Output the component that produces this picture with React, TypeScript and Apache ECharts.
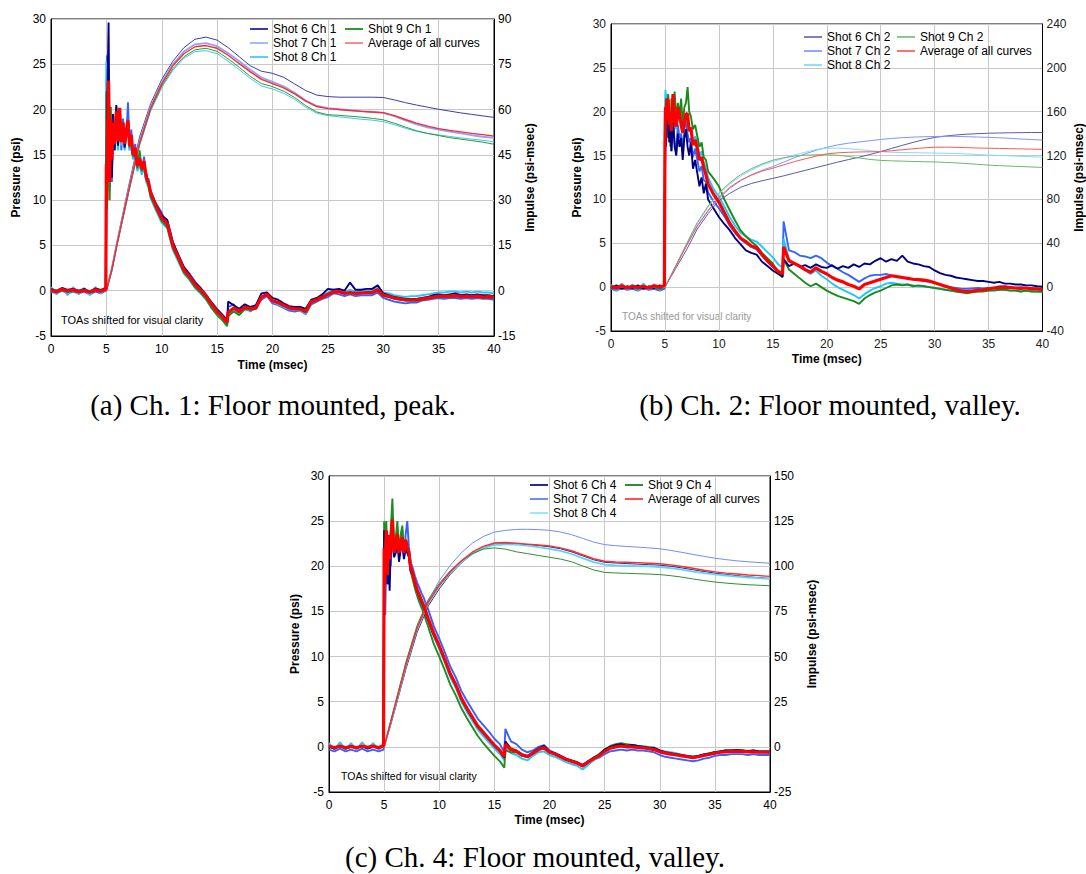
import React, { useEffect, useRef } from "react";
import * as echarts from "echarts";

// ---------- sample times (msec) ----------
const T_MS = [
  0, 0.5, 1, 1.5, 2, 2.5, 3, 3.5, 4, 4.5, 4.95,
  5, 5.05, 5.1, 5.2, 5.3, 5.4, 5.5, 5.6, 5.75, 5.9, 6.05, 6.2, 6.35, 6.5, 6.65, 6.8, 6.95, 7.1, 7.25, 7.4, 7.6, 7.8, 8, 8.2, 8.4, 8.6, 8.8, 9,
  9.5, 10, 10.5, 11, 11.5, 12, 12.5, 13, 13.5, 14, 14.5, 15, 15.5,
  15.9, 16,
  16.5, 17, 17.5, 18, 18.5, 19, 19.5, 20,
  20.5, 21, 21.5, 22, 22.5, 23, 23.5, 24,
  24.5, 25, 25.5, 26, 26.5, 27, 27.5, 28,
  28.5, 29, 29.5, 30, 30.5, 31, 31.5, 32,
  32.5, 33, 33.5, 34, 34.5, 35, 35.5, 36,
  36.5, 37, 37.5, 38, 38.5, 39, 39.5, 40,
];
const T_IMP = [0, 5, 5.5, 6, 7, 8, 9, 10, 11, 12, 13, 14, 15, 16, 17, 18, 19, 20, 21, 22, 23, 24, 25, 26, 27, 28, 29, 30, 31, 32, 33, 34, 35, 36, 37, 38, 39, 40];

const X_TICKS = { min: 0, max: 40, interval: 5 };

// ---------- (a) Ch 1 pressure (psi) ----------
const PA_S6 = [
  0.2, 0, 0.3, 0.1, 0.2, 0, 0.2, -0.1, 0.25, 0.1, 0.3,
  10, 18, 22, 29.6, 13, 18, 12.5, 19.5, 15.5, 20.5, 16, 19.2, 17, 18.2, 15.8, 18, 17.5, 16.5, 16.8, 15.5, 15, 14.2, 14, 13.8, 13.6, 13, 11.8, 11,
  9.5, 8.3, 7.8, 5.4, 3.9, 2.6, 1.8, 0.9, 0.3, -0.5, -1.3, -2.1, -2.7,
  -3.3, -1.2,
  -1.6, -2.0, -1.5, -1.8, -1.6, -0.3, -0.2, -0.8,
  -1.0, -1.4, -1.7, -1.8, -1.8, -2.0, -1.0, -0.8,
  -0.4, 0.2, 0.1, 0.2, 0.0, 0.9, 0.1, 0.1,
  0.2, 0.2, 0.6, -0.3, -0.5, -0.7, -0.8, -0.9,
  -0.9, -0.9, -0.8, -0.7, -0.5, -0.4, -0.5, -0.4,
  -0.3, -0.5, -0.4, -0.5, -0.4, -0.5, -0.5, -0.6,
];
const PA_S7 = [
  -0.1, -0.3, 0, -0.3, -0.1, -0.3, -0.1, -0.4, -0.1, -0.3, 0,
  20, 26, 15, 21, 11, 18.5, 12, 17.5, 15.5, 19, 16.8, 19.8, 15.5, 19, 16.5, 17, 20.8, 15.5, 17.8, 14.8, 16.2, 13.4, 15.2, 13, 14.8, 12.2, 12.4, 10.5,
  9.6, 8.6, 7.2, 5.3, 4.0, 2.6, 1.9, 1.0, 0.3, -0.4, -1.3, -2.0, -2.7,
  -3.2, -1.8,
  -1.5, -2.6, -1.6, -2.3, -1.8, -1.0, -0.6, -1.4,
  -1.6, -1.9, -2.2, -2.3, -2.2, -2.6, -1.5, -1.2,
  -0.9, -0.7, -0.3, -0.4, -0.6, -0.4, -0.6, -0.5,
  -0.5, -0.5, -0.2, -0.8, -1.0, -1.2, -1.3, -1.4,
  -1.3, -1.3, -1.1, -1.0, -0.9, -0.8, -0.9, -0.8,
  -0.8, -0.9, -0.8, -0.9, -0.8, -0.9, -0.9, -1.0,
];
const PA_S8 = [
  0.4, -0.4, 0.3, -0.5, 0.4, -0.4, 0.3, -0.5, 0.4, -0.3, 0.5,
  25.3, 12, 16, 20, 14, 17.5, 15, 17, 16, 18.5, 15.5, 19, 16, 17.5, 15.5, 17, 17.5, 15.5, 16.5, 14.5, 15, 13.2, 14, 12.8, 13.6, 12, 11.4, 10.2,
  8.8, 7.5, 6.9, 4.5, 3.2, 1.9, 1.2, 0.3, -0.3, -1.0, -1.9, -2.6, -3.2,
  -3.8, -2.6,
  -2.2, -2.6, -2.1, -2.2, -2.0, -0.8, -0.4, -1.2,
  -1.5, -1.8, -2.0, -2.1, -2.2, -2.5, -1.3, -1.0,
  -0.5, -0.2, 0.1, 0.0, -0.1, 0.1, -0.1, 0.0,
  0.0, 0.1, 0.3, -0.2, -0.3, -0.5, -0.6, -0.7,
  -0.6, -0.6, -0.5, -0.4, -0.3, -0.2, -0.2, -0.1,
  -0.1, -0.2, -0.1, -0.2, -0.1, -0.2, -0.2, -0.3,
];
const PA_S9 = [
  0, -0.2, 0.1, -0.1, 0, -0.2, 0, -0.2, 0, -0.1, 0.1,
  22, 9, 16, 19, 10, 20.3, 15, 18, 16.5, 20.3, 16.2, 19.5, 16.5, 18.4, 16, 17.3, 18.5, 15.8, 17, 14.8, 15.5, 13.5, 15.5, 13.2, 14.2, 12.3, 11.7, 10.4,
  9.0, 7.7, 7.0, 4.7, 3.4, 2.0, 1.3, 0.4, -0.2, -0.9, -1.9, -2.7, -3.3,
  -3.9, -2.8,
  -2.3, -2.7, -2.0, -2.1, -2.0, -0.7, -0.4, -1.1,
  -1.3, -1.6, -1.9, -2.0, -2.1, -2.4, -1.3, -1.1,
  -0.8, -0.4, -0.2, -0.1, -0.3, -0.2, -0.3, -0.3,
  -0.2, -0.3, 0.0, -0.6, -0.7, -0.9, -1.0, -1.1,
  -1.1, -1.1, -1.0, -0.9, -0.8, -0.7, -0.7, -0.7,
  -0.6, -0.7, -0.7, -0.7, -0.7, -0.8, -0.8, -0.8,
];
const PA_AVG = [
  0.1, -0.1, 0.15, -0.05, 0.1, -0.1, 0.05, -0.15, 0.1, -0.05, 0.2,
  14, 10, 17, 23.2, 12, 19, 14.5, 18.5, 16.2, 19.8, 16.5, 20.2, 16.4, 18.6, 16.2, 17.6, 18.8, 16, 17.2, 15, 15.8, 13.8, 14.6, 13.4, 14.3, 12.5, 12, 10.8,
  9.3, 8.0, 7.4, 5.0, 3.7, 2.3, 1.6, 0.7, 0.1, -0.6, -1.5, -2.3, -2.9,
  -3.5, -2.4,
  -1.9, -2.3, -1.8, -2.0, -1.9, -0.7, -0.4, -1.1,
  -1.3, -1.6, -1.9, -2.0, -2.0, -2.3, -1.2, -1.0,
  -0.7, -0.4, -0.15, -0.1, -0.3, -0.2, -0.3, -0.25,
  -0.2, -0.2, 0.1, -0.5, -0.6, -0.8, -0.9, -1.0,
  -1.0, -1.0, -0.9, -0.8, -0.7, -0.6, -0.6, -0.6,
  -0.55, -0.65, -0.6, -0.65, -0.6, -0.7, -0.65, -0.7,
];
// (a) impulse (psi-msec) at T_IMP
const IA_S6 = [0, 0, 8, 17, 34.5, 51, 62, 70, 76, 80.5, 83.3, 84, 83, 80.5, 77.5, 74.5, 72.7, 72, 70.7, 68.5, 66.3, 64.8, 64.3, 64.1, 64.1, 64.1, 64.1, 64, 63.2, 62.3, 61.5, 60.8, 60.1, 59.5, 58.9, 58.4, 57.9, 57.4];
const IA_S7 = [0, 0, 7, 16.5, 33.5, 49.5, 61, 69, 75, 79.2, 81.6, 82, 81, 78.7, 76, 73.2, 70.6, 69.2, 67.7, 65.6, 63, 61.2, 60.5, 60.1, 59.8, 59.5, 59.2, 58.9, 57.8, 56.4, 55.1, 54.1, 53.4, 52.7, 52.1, 51.5, 51, 50.6];
const IA_S8 = [0, 0, 6.5, 15.5, 32, 48, 59.5, 67.3, 73, 77, 79.2, 79.5, 78.5, 76, 73.2, 70.3, 67.8, 66.8, 65.4, 63.4, 60.8, 58.8, 58, 57.6, 57.2, 56.8, 56.5, 56, 55, 53.8, 52.8, 52.1, 51.6, 51.1, 50.6, 50.2, 49.8, 49.4];
const IA_S9 = [0, 0, 6.8, 15.8, 32.5, 48.5, 60, 67.8, 73.5, 77.5, 79.8, 80.3, 79.3, 76.8, 74, 71, 68.6, 67.6, 66.1, 64, 61.3, 59.2, 58.3, 58.1, 57.8, 57.5, 57.1, 56.6, 55.5, 54.2, 53, 52.1, 51.4, 50.7, 50.2, 49.7, 49.2, 48.5];
const IA_AVG = [0, 0, 7, 16, 33, 49, 60.5, 68.5, 74.5, 78.5, 80.8, 81.2, 80.3, 78, 75.2, 72.5, 70, 68.6, 67.2, 65.2, 62.8, 61, 60.3, 60, 59.7, 59.4, 59.2, 59, 58, 56.7, 55.5, 54.5, 53.7, 53.1, 52.6, 52.1, 51.7, 51.2];

// ---------- (b) Ch 2 pressure (psi) ----------
const PB_S6 = [
  -0.1, 0.2, -0.2, 0.1, -0.1, 0.2, -0.2, 0.1, -0.1, 0.2, 0,
  12, 18, 16, 20, 19, 16.5, 18.5, 15.5, 19, 16, 15, 17.5, 16, 17, 14.5, 17, 18, 16, 15, 16.5, 13.5, 14.5, 13, 11.5, 12.5, 10.7, 11.8, 10,
  9.0, 8.0, 7.2, 6.5, 5.6, 4.9, 4.2, 3.9, 3.7, 2.9, 2.4, 1.9, 1.5,
  1.2, 3.2,
  2.4, 2.7, 2.3, 2.5, 2.2, 2.6, 2.3, 2.2,
  2.5, 2.1, 2.4, 2.2, 2.6, 2.3, 2.7, 2.6,
  3.0, 3.3, 2.9, 3.2, 3.0, 3.6, 2.9, 2.7,
  2.6, 2.4, 2.3, 1.9, 1.6, 1.4, 1.3, 1.1,
  1.0, 0.9, 0.8, 0.7, 0.7, 0.6, 0.5, 0.6,
  0.4, 0.4, 0.3, 0.3, 0.2, 0.2, 0.1, 0.05,
];
const PB_S7 = [
  -0.2, -0.4, -0.1, -0.3, -0.2, -0.4, -0.1, -0.3, -0.2, -0.4, -0.2,
  14, 19, 17, 21, 20, 17, 18, 15.5, 19.5, 16.5, 15.5, 18.5, 17, 17.5, 15.5, 18, 19, 17.5, 16.5, 17, 14.8, 15.8, 14.5, 13.2, 13.8, 12.2, 12, 10.8,
  9.8, 9.0, 8.1, 7.0, 6.2, 5.5, 5.0, 4.6, 4.3, 3.6, 2.9, 2.3, 1.8,
  1.6, 7.5,
  4.2, 4.0, 3.6, 3.5, 3.3, 3.6, 3.3, 2.8,
  2.4, 2.1, 1.7, 1.4, 1.0, 0.6, 1.0, 1.3,
  1.4, 1.4, 1.5, 1.3, 1.2, 1.1, 1.0, 0.9,
  0.8, 0.7, 0.6, 0.5, 0.3, 0.1, 0.0, -0.1,
  -0.2, -0.2, -0.15, -0.1, -0.15, -0.1, -0.05, 0.1,
  0.1, 0.0, -0.1, 0.0, -0.1, -0.1, -0.2, -0.3,
];
const PB_S8 = [
  0.3, -0.4, 0.4, -0.3, 0.3, -0.4, 0.4, -0.3, 0.3, -0.3, 0.3,
  20, 22.5, 20, 22, 20.5, 17.5, 20, 17, 21.5, 18.5, 18, 20, 19, 19.5, 17.5, 19, 19.5, 19, 17.8, 18, 16.5, 17.2, 16.5, 15, 15.5, 14.2, 13.5, 12.5,
  11.2, 10.3, 9.2, 8.0, 7.0, 6.2, 5.8, 5.4, 5.2, 4.6, 4.0, 3.4, 2.6,
  2.2, 5.5,
  3.2, 2.7, 2.3, 1.9, 1.5, 1.9, 1.3, 0.9,
  0.4, 0.0, -0.3, -0.6, -0.9, -1.3, -0.8, -0.4,
  -0.1, 0.1, 0.4, 0.5, 0.4, 0.3, 0.3, 0.2,
  0.1, 0.1, 0.0, -0.1, -0.2, -0.3, -0.4, -0.5,
  -0.6, -0.6, -0.5, -0.5, -0.4, -0.4, -0.3, -0.3,
  -0.3, -0.4, -0.4, -0.5, -0.4, -0.5, -0.5, -0.6,
];
const PB_S9 = [
  0, -0.2, 0.1, -0.1, 0, -0.2, 0.1, -0.1, 0, -0.2, 0,
  15, 19, 21.5, 17, 22, 19.5, 16, 21.5, 18, 22.3, 19, 21, 19.5, 21.5, 18.5, 20.5, 21, 22.8, 20, 19.5, 18, 18.5, 17.2, 16, 16.5, 14.8, 14.5, 13.2,
  12.4, 11.5, 10.0, 8.8, 7.6, 6.5, 5.8, 5.2, 4.7, 3.9, 3.3, 2.7, 1.7,
  1.1, 3.2,
  2.0, 1.5, 1.0, 0.5, 0.1, 0.4, 0.0, -0.4,
  -0.7, -1.0, -1.2, -1.4, -1.6, -1.9, -1.3, -0.9,
  -0.6, -0.4, -0.1, 0.2, 0.3, 0.2, 0.3, 0.1,
  0.2, 0.1, 0.0, -0.1, -0.2, -0.3, -0.4, -0.5,
  -0.6, -0.7, -0.6, -0.5, -0.5, -0.4, -0.4, -0.3,
  -0.3, -0.4, -0.4, -0.5, -0.4, -0.5, -0.5, -0.5,
];
const PB_AVG = [
  0.1, -0.1, 0.15, -0.1, 0.1, -0.05, 0.1, -0.1, 0.15, 0, 0.2,
  16, 20.5, 19, 21.5, 21.3, 18.5, 19.5, 17.8, 22, 19, 18.3, 20.5, 19.8, 18.5, 17.6, 18.8, 19.8, 19.7, 17.8, 18.2, 16.2, 16.8, 15.8, 14.5, 14.8, 13.6, 12.8, 11.8,
  10.6, 9.7, 8.5, 7.3, 6.4, 5.6, 5.2, 4.7, 4.5, 3.7, 3.0, 2.4, 1.8,
  1.5, 4.6,
  3.0, 2.7, 2.4, 2.0, 1.7, 2.2, 1.8, 1.5,
  1.1, 0.8, 0.6, 0.3, 0.1, -0.2, 0.3, 0.5,
  0.7, 0.9, 1.1, 1.3, 1.2, 1.1, 1.0, 0.9,
  0.85, 0.8, 0.7, 0.5, 0.3, 0.1, -0.1, -0.3,
  -0.45, -0.5, -0.45, -0.35, -0.3, -0.2, -0.1, -0.05,
  0, -0.05, -0.1, -0.15, -0.1, -0.2, -0.2, -0.3,
];
// (b) impulse (psi-msec) at T_IMP
const IB_S6 = [0, 0, 8.5, 17, 34, 53, 67, 79, 85.5, 91, 94.5, 97, 99.2, 101.5, 104, 106.5, 109, 111.5, 114, 116.3, 118.5, 121, 123.6, 126.5, 129.3, 132, 134.5, 136.5, 137.8, 138.8, 139.5, 140, 140.4, 140.6, 140.8, 140.9, 141, 141];
const IB_S7 = [0, 0, 9.5, 19, 37.5, 55.5, 69.5, 81, 90, 97, 102.5, 106.5, 110, 114, 118, 121.5, 124.8, 127.5, 129.7, 131.3, 132.4, 133.5, 134.7, 135.6, 136.3, 136.8, 137.2, 137.4, 137.6, 137.5, 137.2, 136.9, 136.6, 136.2, 135.7, 135.1, 134.6, 134.2];
const IB_S8 = [0, 0, 10, 19.5, 39, 58, 73, 85, 94, 101, 106.8, 111.3, 114.5, 117.5, 120.5, 123, 125.5, 126.7, 126.8, 126.3, 125.5, 124.5, 123.5, 123, 122.8, 122.6, 122.4, 122.3, 122.1, 121.9, 121.5, 121, 120.5, 120.1, 119.7, 119.3, 118.9, 118.6];
const IB_S9 = [0, 0, 9.5, 19.5, 39.5, 59, 74, 86, 95, 102.5, 108, 112.3, 115.8, 118, 119.5, 120.3, 120.7, 120.7, 120.3, 119.2, 117.8, 116.5, 115.6, 115.2, 114.9, 114.6, 114.4, 114.2, 113.8, 113.3, 112.7, 112, 111.3, 110.8, 110.4, 110, 109.6, 109.2];
const IB_AVG = [0, 0, 9.5, 19, 38, 56, 70, 82, 91, 97.5, 102, 105.8, 108.5, 111.5, 114.5, 117, 119.5, 121.5, 122.5, 123, 123.3, 123.4, 123.6, 124.4, 125.3, 126.2, 127, 127.6, 127.7, 127.5, 127.2, 126.9, 126.7, 126.5, 126.3, 126.1, 125.9, 125.7];

// ---------- (c) Ch 4 pressure (psi) ----------
const PC_S6 = [
  0, -0.2, 0.1, -0.2, 0, -0.1, 0.1, -0.2, 0, -0.1, 0,
  24, 20, 21, 22, 18, 21.5, 17.3, 22, 24, 21, 21.5, 23, 20.5, 21.8, 22.5, 20.8, 22, 21.5, 21, 19.5, 19, 18, 17.3, 16.6, 16, 15.4, 14.7, 14,
  12.4, 11.1, 9.6, 8.0, 6.8, 5.3, 4.2, 3.2, 2.2, 1.5, 0.8, 0.1, -0.5,
  -1.2, 0.6,
  -0.2, -0.4, -0.8, -1.0, -0.6, -0.2, 0.1, -0.5,
  -0.7, -1.0, -1.3, -1.5, -1.7, -2.0, -1.6, -1.2,
  -0.9, -0.3, 0.0, 0.2, 0.3, 0.1, 0.2, 0.1,
  0.0, -0.1, -0.1, -0.4, -0.6, -0.7, -0.8, -0.9,
  -1.0, -1.1, -1.0, -0.85, -0.75, -0.6, -0.5, -0.4,
  -0.4, -0.35, -0.4, -0.45, -0.4, -0.5, -0.5, -0.5,
];
const PC_S7 = [
  -0.3, -0.5, -0.2, -0.5, -0.3, -0.5, -0.2, -0.5, -0.3, -0.5, -0.3,
  20, 24, 14.6, 21, 23, 18, 22.5, 20, 24, 22, 21.5, 24.2, 21, 23, 24, 21, 23.5, 25, 22, 20.5, 19.8, 18.9, 18.2, 17.6, 17, 16.5, 15.8, 15.2,
  13.4, 12.0, 10.5, 8.9, 7.7, 6.2, 5.1, 4.1, 3.1, 2.4, 1.7, 0.9, 0.3,
  -0.6, 2.0,
  0.6, 0.3, -0.3, -0.6, -0.4, 0.0, 0.2, -0.4,
  -0.7, -1.0, -1.3, -1.6, -1.8, -2.2, -1.8, -1.4,
  -1.2, -0.8, -0.5, -0.4, -0.3, -0.4, -0.3, -0.4,
  -0.4, -0.5, -0.6, -0.9, -1.1, -1.2, -1.3, -1.4,
  -1.5, -1.6, -1.5, -1.3, -1.2, -1.0, -0.9, -0.9,
  -0.8, -0.8, -0.8, -0.9, -0.8, -0.9, -0.9, -0.9,
];
const PC_S8 = [
  0.4, -0.3, 0.5, -0.3, 0.4, -0.3, 0.5, -0.2, 0.4, -0.3, 0.3,
  20, 22, 22.5, 23, 20, 22, 21, 22, 23.5, 21, 21.5, 22.5, 21, 22, 22.5, 21, 22, 21.5, 21, 19.5, 18.8, 17.8, 17, 16.4, 15.8, 15.2, 14.5, 13.8,
  12.2, 10.8, 9.3, 7.7, 6.5, 5.0, 3.9, 2.9, 1.9, 1.2, 0.5, -0.2, -0.8,
  -1.5, 0.0,
  -0.7, -0.9, -1.3, -1.5, -1.0, -0.6, -0.5, -0.9,
  -1.1, -1.4, -1.7, -1.9, -2.1, -2.5, -2.0, -1.5,
  -1.1, -0.6, -0.2, 0.0, 0.1, 0.1, 0.2, 0.1,
  0.1, 0.0, -0.1, -0.4, -0.5, -0.6, -0.7, -0.9,
  -1.0, -1.1, -1.0, -0.8, -0.7, -0.6, -0.5, -0.4,
  -0.4, -0.4, -0.5, -0.5, -0.5, -0.6, -0.6, -0.7,
];
const PC_S9 = [
  0, -0.1, 0.1, -0.1, 0, -0.1, 0.1, -0.1, 0, -0.1, 0.1,
  25, 19, 23, 25, 20, 23, 21.5, 24, 27.5, 22, 23, 25, 21.5, 23.5, 24.5, 21.5, 23, 22.5, 21.5, 19.5, 18.5, 17.5, 16.7, 16, 15.4, 14.8, 14, 13.3,
  11.4, 10.0, 8.5, 6.9, 5.7, 4.3, 3.2, 2.2, 1.2, 0.4, -0.3, -1.0, -1.6,
  -2.3, -0.4,
  -0.6, -0.6, -1.0, -1.1, -0.7, -0.3, -0.2, -0.6,
  -0.8, -1.1, -1.4, -1.6, -1.8, -2.1, -1.6, -1.2,
  -0.8, -0.3, 0.1, 0.3, 0.4, 0.3, 0.2, 0.1,
  0.0, -0.1, -0.2, -0.5, -0.7, -0.8, -0.9, -1.0,
  -1.1, -1.2, -1.0, -0.9, -0.7, -0.6, -0.5, -0.4,
  -0.4, -0.4, -0.4, -0.5, -0.4, -0.5, -0.5, -0.5,
];
const PC_AVG = [
  0.1, -0.1, 0.1, -0.1, 0.05, -0.1, 0.1, -0.05, 0.1, -0.1, 0.15,
  22, 18, 21, 24, 19, 23.5, 20.8, 22.8, 25.2, 21.5, 22.1, 23.6, 21.5, 22.3, 23.2, 21.5, 22.9, 22, 21.6, 19.9, 19.2, 18.2, 17.4, 16.8, 16.2, 15.6, 14.9, 14.2,
  12.6, 11.2, 9.7, 8.1, 6.9, 5.4, 4.3, 3.3, 2.3, 1.6, 0.9, 0.2, -0.4,
  -1.1, 0.3,
  -0.3, -0.5, -0.9, -1.1, -0.7, -0.3, -0.1, -0.6,
  -0.8, -1.1, -1.4, -1.6, -1.8, -2.1, -1.7, -1.3,
  -1.0, -0.5, -0.15, 0.0, 0.1, 0.0, 0.0, -0.05,
  -0.1, -0.2, -0.3, -0.55, -0.7, -0.8, -0.9, -1.0,
  -1.1, -1.2, -1.1, -0.95, -0.85, -0.7, -0.6, -0.55,
  -0.5, -0.5, -0.5, -0.55, -0.55, -0.6, -0.6, -0.6,
];
// (c) impulse (psi-msec) at T_IMP
const IC_S6 = [0, 0, 10, 21, 43.5, 63.5, 78, 87.5, 95.5, 101.8, 106.8, 110.2, 112.2, 112.6, 112.4, 112, 111.5, 110.8, 109.7, 108, 105.8, 103.6, 102.2, 101.8, 101.5, 101.2, 100.9, 100.6, 100, 99.1, 98.1, 97.1, 96.2, 95.5, 94.8, 94.2, 93.7, 93.3];
const IC_S7 = [0, 0, 11, 22, 45, 66, 81, 92, 100.5, 107.5, 112.8, 116.5, 118.9, 119.9, 120.4, 120.5, 120.3, 119.9, 119, 117.5, 115.5, 113.4, 112, 111.4, 111, 110.6, 110.2, 109.7, 108.8, 107.7, 106.6, 105.5, 104.5, 103.7, 103, 102.5, 102.1, 101.7];
const IC_S8 = [0, 0, 11.5, 22.5, 45.5, 65.5, 79.5, 89, 96.5, 102.3, 106.8, 110, 111.8, 112.2, 112, 111.4, 110.6, 109.6, 108.5, 106.8, 104.5, 102.3, 100.9, 100.5, 100.3, 100.1, 99.9, 99.6, 99, 98.1, 97.1, 96.2, 95.5, 94.9, 94.3, 93.8, 93.4, 93];
const IC_S9 = [0, 0, 12, 24, 47.5, 67.5, 81.5, 90.5, 97.5, 103, 107, 109.5, 110.2, 109.5, 108, 107, 106, 105, 104, 102.5, 100.2, 98, 96.6, 96.3, 96.1, 95.9, 95.7, 95.4, 94.8, 94, 93, 92.1, 91.3, 90.7, 90.2, 89.8, 89.5, 89.2];
const IC_AVG = [0, 0, 11.5, 23, 46, 66, 80, 89.5, 97, 103, 107.8, 111, 112.9, 113.2, 112.8, 112.3, 111.8, 111.2, 110.2, 108.6, 106.4, 104.2, 102.8, 102.4, 102.2, 102, 101.7, 101.4, 100.8, 99.9, 98.9, 97.8, 96.9, 96.2, 95.7, 95.2, 94.8, 94.4];

// ---------- texts ----------
const CAPTIONS = [
  "(a) Ch. 1: Floor mounted, peak.",
  "(b) Ch. 2: Floor mounted, valley.",
  "(c) Ch. 4: Floor mounted, valley.",
];
const NOTE = "TOAs shifted for visual clarity";
const AVG_NAME = "Average of all curves";

const FONT = "Arial, 'Liberation Sans', Helvetica, sans-serif";
const SERIF = "'Times New Roman', 'Liberation Serif', 'DejaVu Serif', serif";

type Panel = {
  ch: string;
  grid: { left: number; top: number; width: number; height: number };
  right: { min: number; max: number; interval: number };
  P: number[][]; // s6, s7, s8, s9, avg
  I: number[][];
  pCol: string[];
  iCol: string[];
  iWidth: number[];
  legCol: string[];
  leg1: { left: number; top: number };
  leg2: { left: number; top: number };
  rightGap: number;
  leftGap: number;
  xGap: number;
  labelColor: string;
};

const PANELS: Panel[] = [
  {
    ch: "1",
    grid: { left: 51, top: 19, width: 443, height: 317 },
    right: { min: -15, max: 90, interval: 15 },
    P: [PA_S6, PA_S7, PA_S8, PA_S9, PA_AVG],
    I: [IA_S6, IA_S7, IA_S8, IA_S9, IA_AVG],
    pCol: ["#000080", "#3a5fff", "#1ec8ff", "#1f8c1f", "#ff0000"],
    iCol: ["#3c3ca8", "#8ea4ff", "#3cc8f0", "#2f9a2f", "#ff2a2a"],
    iWidth: [1, 1.8, 1, 1, 1.4],
    legCol: ["#3c3ca8", "#a8b8ff", "#55d0ff", "#2f9a2f", "#ff8a8a"],
    leg1: { left: 250, top: 22 },
    leg2: { left: 345, top: 22 },
    rightGap: 30,
    leftGap: 29,
    xGap: 23,
    labelColor: "#000",
  },
  {
    ch: "2",
    grid: { left: 611, top: 24, width: 431.5, height: 307 },
    right: { min: -40, max: 240, interval: 40 },
    P: [PB_S6, PB_S7, PB_S8, PB_S9, PB_AVG],
    I: [IB_S6, IB_S7, IB_S8, IB_S9, IB_AVG],
    pCol: ["#000080", "#3366ff", "#1ec8ff", "#1a8a1a", "#ff0000"],
    iCol: ["#5a5ab0", "#7b96ff", "#7fdcff", "#6bb86b", "#ff5555"],
    iWidth: [1, 1, 1, 1, 1],
    legCol: ["#8080c0", "#8fa6ff", "#8fe0ff", "#8fc88f", "#ff7070"],
    leg1: { left: 804, top: 30 },
    leg2: { left: 897, top: 30 },
    rightGap: 30,
    leftGap: 28,
    xGap: 22,
    labelColor: "#222",
  },
  {
    ch: "4",
    grid: { left: 329, top: 476, width: 441, height: 316 },
    right: { min: -25, max: 150, interval: 25 },
    P: [PC_S6, PC_S7, PC_S8, PC_S9, PC_AVG],
    I: [IC_S6, IC_S7, IC_S8, IC_S9, IC_AVG],
    pCol: ["#000080", "#3a5fff", "#1ec8ff", "#1f8c1f", "#ff0000"],
    iCol: ["#2a2a8a", "#6f8cff", "#55d5ff", "#2f8f2f", "#ff2a2a"],
    iWidth: [1, 1, 1.8, 1, 1.4],
    legCol: ["#2a2a8a", "#6f8cff", "#a0e8ff", "#2f8f2f", "#ff5050"],
    leg1: { left: 530, top: 478 },
    leg2: { left: 625, top: 478 },
    rightGap: 36,
    leftGap: 28,
    xGap: 22,
    labelColor: "#000",
  },
];

const pairs = (T: number[], V: number[]) => T.map((t, i) => [t, V[i]]);

function buildOption() {
  const grid: any[] = [];
  const xAxis: any[] = [];
  const yAxis: any[] = [];
  const series: any[] = [];
  const legend: any[] = [];

  PANELS.forEach((p, k) => {
    grid.push({ ...p.grid, show: true, borderColor: "#000", borderWidth: 1, backgroundColor: "transparent" });
    const labelStyle = { fontSize: 12, color: p.labelColor, fontFamily: FONT };
    const nameStyle = { fontSize: 12, fontWeight: "bold", color: "#000", fontFamily: FONT };
    xAxis.push({
      type: "value", gridIndex: k, ...X_TICKS,
      name: "Time (msec)", nameLocation: "middle", nameGap: p.xGap, nameTextStyle: nameStyle,
      axisLine: { show: true, onZero: false, lineStyle: { color: "#000", width: 1 } },
      axisTick: { show: false },
      axisLabel: { ...labelStyle, margin: 7 },
      splitLine: { show: true, lineStyle: { color: "#c8c8c8", width: 1 } },
    });
    yAxis.push({
      type: "value", gridIndex: k, position: "left", min: -5, max: 30, interval: 5,
      name: "Pressure (psi)", nameLocation: "middle", nameGap: p.leftGap, nameTextStyle: nameStyle,
      axisLine: { show: true, onZero: false, lineStyle: { color: "#000" } },
      axisTick: { show: false },
      axisLabel: { ...labelStyle, margin: 5 },
      splitLine: { show: true, lineStyle: { color: "#c8c8c8", width: 1 } },
    });
    yAxis.push({
      type: "value", gridIndex: k, position: "right", ...p.right,
      name: "Impulse (psi-msec)", nameLocation: "middle", nameGap: p.rightGap, nameTextStyle: nameStyle,
      axisLine: { show: true, onZero: false, lineStyle: { color: "#000" } },
      axisTick: { show: false },
      axisLabel: { ...labelStyle, margin: 4 },
      splitLine: { show: false },
    });

    const names = [`Shot 6 Ch ${p.ch}`, `Shot 7 Ch ${p.ch}`, `Shot 8 Ch ${p.ch}`, `Shot 9 Ch ${p.ch}`, AVG_NAME];
    const common = { type: "line", xAxisIndex: k, showSymbol: false, symbol: "none", silent: true, animation: false };
    // pressure traces of the shots (draw order: 7, 8, 9, 6)
    [1, 2, 3, 0].forEach((j) => {
      series.push({ ...common, name: names[j], yAxisIndex: 2 * k, data: pairs(T_MS, p.P[j]), lineStyle: { color: p.pCol[j], width: 1.9 }, itemStyle: { color: p.pCol[j] }, z: 2 });
    });
    // impulse curves
    [0, 1, 2, 3, 4].forEach((j) => {
      series.push({ ...common, name: names[j], yAxisIndex: 2 * k + 1, data: pairs(T_IMP, p.I[j]), lineStyle: { color: p.iCol[j], width: p.iWidth[j] }, itemStyle: { color: p.iCol[j] }, z: 3 });
    });
    // average pressure on top
    series.push({ ...common, name: names[4], yAxisIndex: 2 * k, data: pairs(T_MS, p.P[4]), lineStyle: { color: p.pCol[4], width: 3.2 }, itemStyle: { color: p.pCol[4] }, z: 4 });

    const legBase = {
      orient: "vertical", itemGap: 0, itemWidth: 18, itemHeight: 2, icon: "rect", padding: 0, selectedMode: false,
      textStyle: { fontSize: 12, lineHeight: 14, color: "#000", fontFamily: FONT },
    };
    legend.push({ ...legBase, ...p.leg1, data: [0, 1, 2].map((j) => ({ name: names[j], itemStyle: { color: p.legCol[j] } })) });
    legend.push({ ...legBase, ...p.leg2, data: [3, 4].map((j) => ({ name: names[j], itemStyle: { color: p.legCol[j] } })) });
  });

  const graphic: any[] = [
    { type: "text", x: 61, y: 320, style: { text: NOTE, fontSize: 11, fontFamily: FONT, fill: "#000", verticalAlign: "middle" } },
    { type: "text", x: 622, y: 316, style: { text: NOTE, fontSize: 10, fontFamily: FONT, fill: "#999", verticalAlign: "middle" } },
    { type: "text", x: 341, y: 776, style: { text: NOTE, fontSize: 10.5, fontFamily: FONT, fill: "#000", verticalAlign: "middle" } },
    { type: "text", x: 273, y: 405, style: { text: CAPTIONS[0], fontSize: 29, fontFamily: SERIF, fill: "#000", align: "center", verticalAlign: "middle" } },
    { type: "text", x: 830, y: 405, style: { text: CAPTIONS[1], fontSize: 29, fontFamily: SERIF, fill: "#000", align: "center", verticalAlign: "middle" } },
    { type: "text", x: 535, y: 857, style: { text: CAPTIONS[2], fontSize: 29, fontFamily: SERIF, fill: "#000", align: "center", verticalAlign: "middle" } },
  ];

  return { animation: false, backgroundColor: "#fff", grid, xAxis, yAxis, series, legend, graphic };
}

export default function App() {
  const ref = useRef<HTMLDivElement>(null);
  useEffect(() => {
    if (!ref.current) return;
    const chart = echarts.init(ref.current, undefined, { renderer: "svg" });
    chart.setOption(buildOption() as any);
    return () => chart.dispose();
  }, []);
  return <div ref={ref} style={{ position: "absolute", left: 0, top: 0, width: 1086, height: 874, background: "#fff" }} />;
}
